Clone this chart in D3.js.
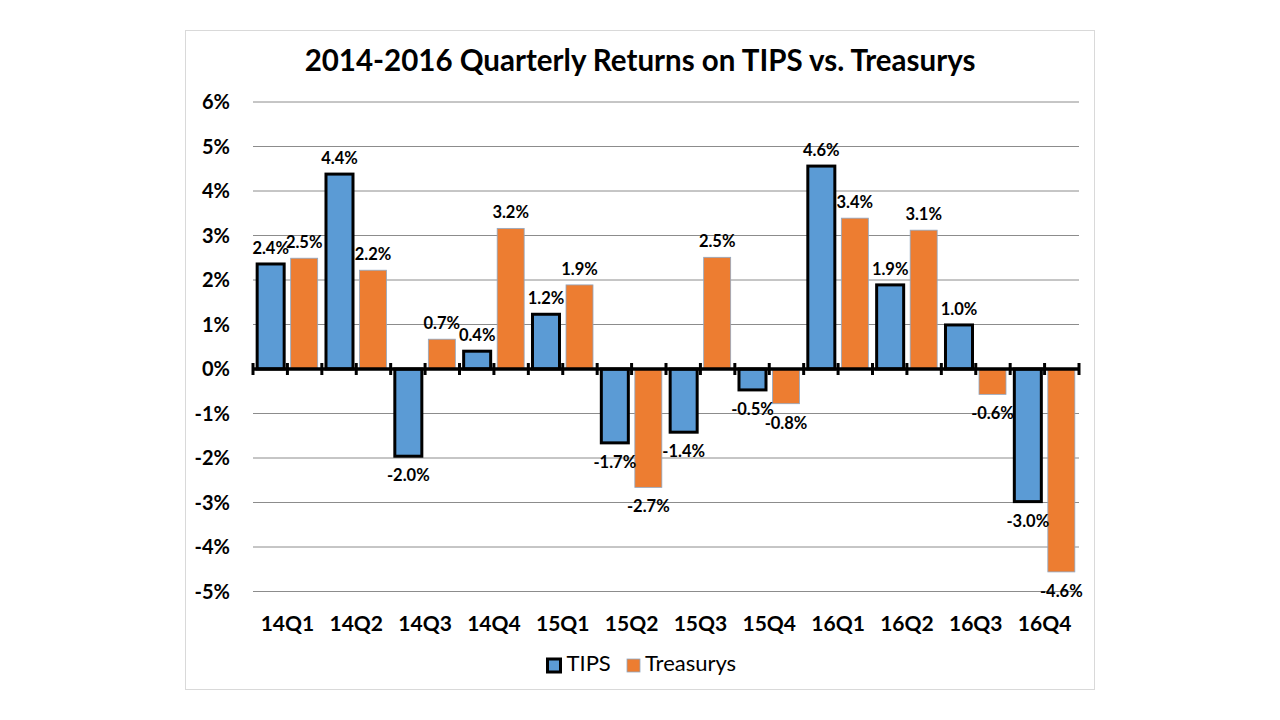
<!DOCTYPE html>
<html>
<head>
<meta charset="utf-8">
<script src="https://cdn.jsdelivr.net/npm/d3@7"></script>
<style>
  body { margin: 0; background: #fff; }
  svg { display: block; font-family: Lato, "Open Sans", sans-serif; }
</style>
</head>
<body>
<div id="chart"></div>
<script>
const quarters = ['14Q1', '14Q2', '14Q3', '14Q4', '15Q1', '15Q2', '15Q3', '15Q4', '16Q1', '16Q2', '16Q3', '16Q4']
const seriesNames = ['TIPS', 'Treasurys']
const tipsReturns = [2.36, 4.38, -1.96, 0.40, 1.23, -1.66, -1.42, -0.47, 4.56, 1.89, 0.99, -2.98]
const treasuryReturns = [2.49, 2.22, 0.67, 3.16, 1.89, -2.66, 2.51, -0.78, 3.39, 3.12, -0.57, -4.56]
const yTicks = [-5, -4, -3, -2, -1, 0, 1, 2, 3, 4, 5, 6]

const colours = {
  tips: '#5b9bd5',
  treasury: '#ed7d31',
  grid: '#8c8c8c',
  frame: '#d9d9d9'
}

const plot = {left: 253, right: 1079, top: 102, bottom: 591.5}

const data = quarters.map((q, i) => ({
  quarter: q,
  values: [
    {series: 'TIPS', value: tipsReturns[i]},
    {series: 'Treasurys', value: treasuryReturns[i]}
  ]
}))

// plain hyphen for negatives, like the original
const pct = v => v.toFixed(1) + '%'

const svg = d3.select('#chart')
  .append('svg')
  .attr('width', 1280)
  .attr('height', 720)

// Frame
svg.append('rect')
  .attr('x', 185.5)
  .attr('y', 30.5)
  .attr('width', 909)
  .attr('height', 659)
  .attr('fill', '#fff')
  .attr('stroke', colours.frame)

// Scales
const x0 = d3.scaleBand()
  .domain(quarters)
  .range([plot.left, plot.right])

const x1 = d3.scaleBand()
  .domain(seriesNames)
  .range([0, x0.bandwidth()])
  .paddingInner(0.194)
  .paddingOuter(0.124)

const y = d3.scaleLinear()
  .domain([-5, 6])
  .range([plot.bottom, plot.top])

// Title
svg.append('text')
  .attr('x', 640)
  .attr('y', 71)
  .attr('text-anchor', 'middle')
  .style('font-size', '29.5px')
  .style('font-weight', 'bold')
  .text('2014-2016 Quarterly Returns on TIPS vs. Treasurys')

// Grid lines and y labels
svg.append('g')
  .selectAll('line')
  .data(yTicks.filter(t => t !== 0))
  .enter()
  .append('line')
  .attr('x1', plot.left)
  .attr('x2', plot.right)
  .attr('y1', d => y(d))
  .attr('y2', d => y(d))
  .attr('stroke', colours.grid)
  .attr('stroke-width', 1)

svg.append('g')
  .selectAll('text')
  .data(yTicks)
  .enter()
  .append('text')
  .attr('x', 230)
  .attr('y', d => y(d) + 7)
  .attr('text-anchor', 'end')
  .style('font-size', '20px')
  .style('font-weight', 'bold')
  .text(d => d + '%')

// Bars
const groups = svg.append('g')
  .selectAll('g')
  .data(data)
  .enter()
  .append('g')
  .attr('transform', d => 'translate(' + x0(d.quarter) + ',0)')

groups.selectAll('rect')
  .data(d => d.values)
  .enter()
  .append('rect')
  .attr('x', d => x1(d.series))
  .attr('width', x1.bandwidth())
  .attr('y', d => y(Math.max(0, d.value)))
  .attr('height', d => Math.abs(y(d.value) - y(0)))
  .attr('fill', d => d.series === 'TIPS' ? colours.tips : colours.treasury)
  .attr('stroke', d => d.series === 'TIPS' ? '#000' : '#8fa8c4')
  .attr('stroke-width', d => d.series === 'TIPS' ? 3 : 0.8)

// Zero axis with ticks at every half category
const halfTicks = d3.range(quarters.length * 2 + 1)
  .map(i => plot.left + i * x0.bandwidth() / 2)

svg.append('line')
  .attr('x1', plot.left)
  .attr('x2', plot.right)
  .attr('y1', y(0))
  .attr('y2', y(0))
  .attr('stroke', '#000')
  .attr('stroke-width', 3.5)

svg.append('g')
  .selectAll('line')
  .data(halfTicks)
  .enter()
  .append('line')
  .attr('x1', d => d)
  .attr('x2', d => d)
  .attr('y1', y(0) - 6)
  .attr('y2', y(0) + 6)
  .attr('stroke', '#000')
  .attr('stroke-width', 3)

// Value labels
groups.selectAll('text')
  .data(d => d.values)
  .enter()
  .append('text')
  .attr('x', d => x1(d.series) + x1.bandwidth() / 2)
  .attr('y', d => d.value >= 0 ? y(d.value) - 10 : y(d.value) + 25)
  .attr('text-anchor', 'middle')
  .style('font-size', '16.5px')
  .style('font-weight', 'bold')
  .text(d => pct(d.value))

// Category labels
svg.append('g')
  .selectAll('text')
  .data(quarters)
  .enter()
  .append('text')
  .attr('x', d => x0(d) + x0.bandwidth() / 2)
  .attr('y', 631)
  .attr('text-anchor', 'middle')
  .style('font-size', '21px')
  .style('font-weight', 'bold')
  .text(d => d)

// Legend
const legendX = [547.5, 627]
const legend = svg.append('g')
  .selectAll('g')
  .data(seriesNames)
  .enter()
  .append('g')
  .attr('transform', (d, i) => 'translate(' + legendX[i] + ',659)')

legend.append('rect')
  .attr('width', 13)
  .attr('height', 13)
  .attr('fill', d => d === 'TIPS' ? colours.tips : colours.treasury)
  .attr('stroke', d => d === 'TIPS' ? '#000' : '#8fa8c4')
  .attr('stroke-width', d => d === 'TIPS' ? 3 : 0.8)

legend.append('text')
  .attr('x', d => d === 'TIPS' ? 19 : 18)
  .attr('y', 12)
  .style('font-size', '22px')
  .text(d => d)
</script>
</body>
</html>
